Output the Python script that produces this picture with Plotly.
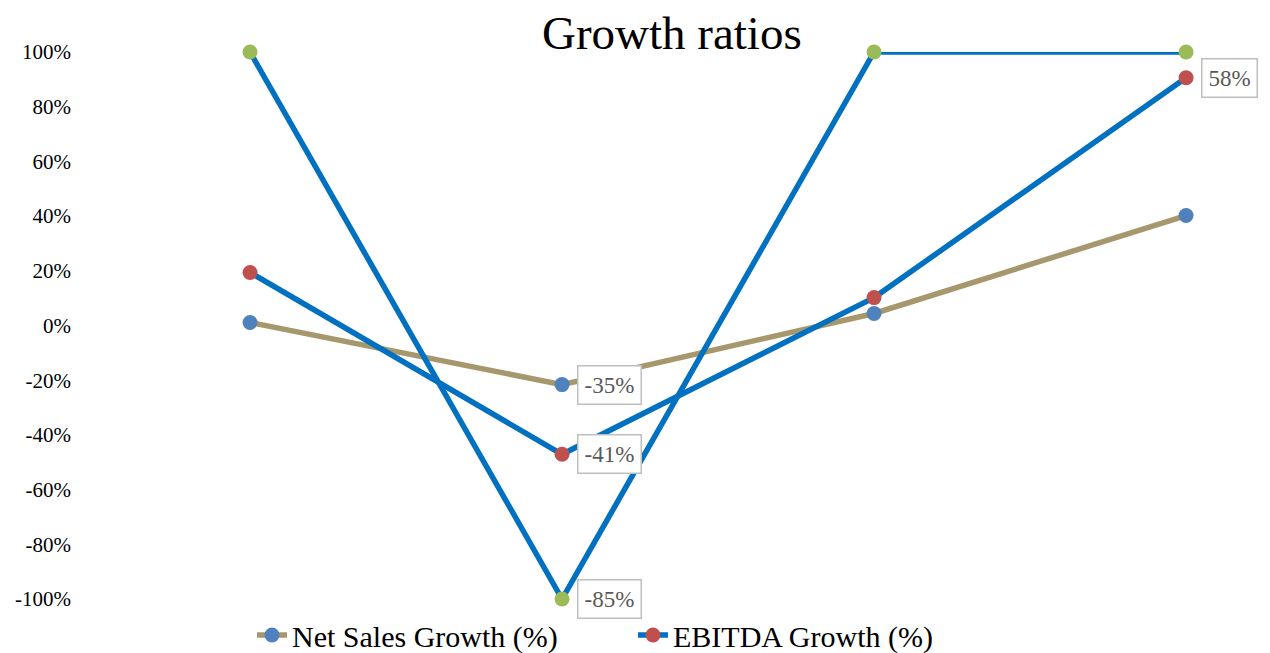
import plotly.graph_objects as go

# Periods along the x axis (labels are not displayed)
periods = ["P1", "P2", "P3", "P4"]

# Series values in percent
net_sales_growth = [1.1, -21.6, 4.4, 40.2]
ebitda_growth = [19.4, -47.1, 10.2, 90.6]
capped_growth = [100, -100, 100, 100]

# Data-label texts attached to individual points: (series, point index, text)
point_labels = [
    ("net", 1, "-35%"),
    ("ebitda", 1, "-41%"),
    ("capped", 1, "-85%"),
    ("ebitda", 3, "58%"),
]

# Y axis ticks
y_ticks = [100, 80, 60, 40, 20, 0, -20, -40, -60, -80, -100]
y_tick_text = ["100%", "80%", "60%", "40%", "20%", "0%", "-20%", "-40%", "-60%", "-80%", "-100%"]

FONT = "Liberation Serif, Times New Roman, serif"

series = {"net": net_sales_growth, "ebitda": ebitda_growth, "capped": capped_growth}

fig = go.Figure()
fig.add_trace(go.Scatter(
    x=periods, y=net_sales_growth, name="Net Sales Growth (%)", mode="lines+markers",
    line=dict(color="#A6986C", width=5.5),
    marker=dict(color="#4F81BD", size=15),
    cliponaxis=False,
))
fig.add_trace(go.Scatter(
    x=periods, y=ebitda_growth, name="EBITDA Growth (%)", mode="lines+markers",
    line=dict(color="#0070C0", width=5.5),
    marker=dict(color="#C0504D", size=15),
    cliponaxis=False,
))
fig.add_trace(go.Scatter(
    x=periods, y=capped_growth, name="Growth (capped)", mode="lines+markers",
    line=dict(color="#0070C0", width=5.5),
    marker=dict(color="#9BBB59", size=15),
    cliponaxis=False, showlegend=False,
))

for key, idx, text in point_labels:
    fig.add_annotation(
        x=periods[idx], y=series[key][idx], text=text, showarrow=False,
        xanchor="left", yanchor="middle", xshift=15,
        font=dict(family=FONT, size=23, color="#595959"),
        bgcolor="white", bordercolor="#BFBFBF", borderwidth=1.5, borderpad=6,
    )

fig.update_layout(
    width=1270, height=653,
    margin=dict(l=80, r=0, t=52, b=54, autoexpand=False),
    paper_bgcolor="white", plot_bgcolor="white",
    font=dict(family=FONT, color="black"),
    title=dict(text="Growth ratios", x=0.529, xanchor="center",
               y=1 - 33 / 653, yanchor="middle", yref="container",
               font=dict(family=FONT, size=47, color="black")),
    xaxis=dict(type="category", range=[-0.545, 3.269], showticklabels=False,
               showgrid=False, zeroline=False, showline=False, ticks=""),
    yaxis=dict(range=[-100, 100], tickvals=y_ticks, ticktext=y_tick_text,
               showgrid=False, zeroline=False, showline=False, ticks="",
               ticklabelstandoff=8,
               tickfont=dict(family=FONT, size=21, color="black")),
    legend=dict(orientation="h", xref="container", x=252 / 1270, xanchor="left",
                yref="container", y=18 / 653, yanchor="middle",
                font=dict(family=FONT, size=30, color="black"),
                entrywidth=336, itemwidth=30, bgcolor="rgba(0,0,0,0)"),
    showlegend=True,
)

fig.write_html("out.html")
